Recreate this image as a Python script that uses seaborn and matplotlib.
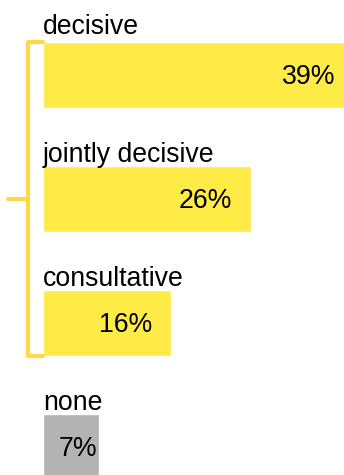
import matplotlib
matplotlib.use("Agg")
import matplotlib.pyplot as plt
import seaborn as sns
import pandas as pd

categories = ["decisive", "jointly decisive", "consultative", "none"]
values = [39, 26, 16, 7]
value_labels = ["39%", "26%", "16%", "7%"]
bar_colors = ["#FFEB45", "#FFEB45", "#FFEB45", "#B3B3B3"]
bracket_color = "#FFD84A"

sns.set_theme(style="white")
plt.rcParams['font.family'] = ['Liberation Sans', 'DejaVu Sans']

W, H, DPI = 344, 475, 100
fig = plt.figure(figsize=(W / DPI, H / DPI), dpi=DPI)
left_px = 43
px_per_unit = 8.0
row_px = 124.0
first_center_px = 75.0
ax = fig.add_axes([left_px / W, 0, (W - left_px) / W, 1])

df = pd.DataFrame({"category": categories, "value": values})
sns.barplot(data=df, x="value", y="category", hue="category", palette=bar_colors,
            orient="h", width=66 / row_px, ax=ax, legend=False, saturation=1)

ax.set_xlim(0, (W - left_px) / px_per_unit)
ax.set_ylim((H - first_center_px) / row_px, -first_center_px / row_px)
ax.axis("off")

fs = 26.6 * 72 / DPI
half_h = 33 / row_px
for i, (cat, v, lab) in enumerate(zip(categories, values, value_labels)):
    gap = 8 if i == 0 else 4.5
    ax.text(0, i - half_h - gap / row_px, cat, ha="left", va="baseline",
            fontsize=fs, color="#000000", clip_on=False)
    xr = max(v - 2.4, 6.75)
    ax.text(xr, i + 9.5 / row_px, lab, ha="right", va="baseline",
            fontsize=fs, color="#000000")

# bracket around the first three bars
bx = (28 - left_px) / px_per_unit
top = 0 - half_h
bot = 2 + half_h
mid = (top + bot) / 2
lw = 4.2 * 72 / DPI
kw = dict(color=bracket_color, lw=lw, solid_capstyle="round",
          solid_joinstyle="round", clip_on=False)
ax.plot([0, bx, bx, 0], [top, top, bot, bot], **kw)
ax.plot([bx, (8 - left_px) / px_per_unit], [mid, mid], **kw)

fig.savefig("out.png", dpi=DPI)
